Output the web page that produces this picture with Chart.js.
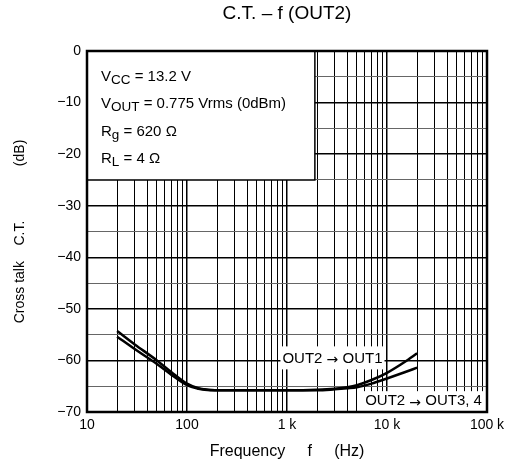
<!DOCTYPE html>
<html>
<head>
<meta charset="utf-8">
<script src="https://cdn.jsdelivr.net/npm/chart.js@4/dist/chart.umd.min.js"></script>
<style>
  html, body { margin: 0; padding: 0; background: #fff; }
  #wrap { width: 512px; height: 470px; }
</style>
</head>
<body>
<div id="wrap"><canvas id="ctChart" width="512" height="470"></canvas></div>
<script>
const FONT = "'Liberation Sans', Arial, sans-serif";
const ARROW_FONT = "'DejaVu Sans', sans-serif";

// frequency (Hz) and cross talk (dB)
const freq = [20, 30, 50, 70, 100, 130, 150, 200, 500, 1000, 2000, 3000, 4000, 5000, 7000, 10000, 15000, 20000];
const ctOut1 = [-54.3, -56.9, -60.0, -62.3, -64.5, -65.4, -65.6, -65.8, -65.8, -65.8, -65.7, -65.5, -65.2, -64.8, -63.8, -62.4, -60.3, -58.6];
const ctOut34 = [-55.4, -57.8, -60.7, -62.8, -64.8, -65.5, -65.7, -65.8, -65.8, -65.8, -65.8, -65.6, -65.4, -65.2, -64.5, -63.5, -62.3, -61.4];

const xTickValues = [10, 100, 1000, 10000, 100000];
const xTickLabels = ['10', '100', '1 k', '10 k', '100 k'];
const yTickLabels = ['0', '\u221210', '\u221220', '\u221230', '\u221240', '\u221250', '\u221260', '\u221270'];

const isDecade = v => xTickValues.includes(v);

// text in pieces: [text, font, vertical shift]
function partsWidth(ctx, parts) {
	let w = 0;
	parts.forEach(([t, f]) => { ctx.font = f; w += ctx.measureText(t).width; });
	return w;
}
function drawParts(ctx, parts, x, y) {
	parts.forEach(([t, f, dy]) => {
		ctx.font = f;
		ctx.fillText(t, x, y + (dy || 0));
		x += ctx.measureText(t).width;
	});
}

// title, condition box, curve labels, frame
const overlay = {
	id: 'overlay',
	beforeDatasetsDraw(chart) {
		const {ctx, chartArea: a, scales: {x, y}} = chart;
		ctx.save();
		// condition box
		const bx = x.getPixelForValue(1900), by = y.getPixelForValue(-25);
		ctx.fillStyle = '#fff';
		ctx.fillRect(a.left, a.top, bx - a.left, by - a.top);
		ctx.strokeStyle = '#000';
		ctx.lineWidth = 1.5;
		ctx.beginPath();
		ctx.moveTo(bx, a.top);
		ctx.lineTo(bx, by);
		ctx.lineTo(a.left, by);
		ctx.stroke();

		ctx.fillStyle = '#000';
		ctx.textAlign = 'left';
		ctx.textBaseline = 'alphabetic';
		const f15 = '15px ' + FONT, fsub = '13.5px ' + FONT;
		const rows = [
			[['V', f15], ['CC', fsub, 3], [' = 13.2 V', f15]],
			[['V', f15], ['OUT', fsub, 3], [' = 0.775 Vrms (0dBm)', f15]],
			[['R', f15], ['g', fsub, 3], [' = 620 \u03a9', f15]],
			[['R', f15], ['L', fsub, 3], [' = 4 \u03a9', f15]]
		];
		rows.forEach((parts, i) => {
			drawParts(ctx, parts, a.left + 14, a.top + 29.5 + i * 27.5);
		});

		// curve labels
		ctx.textBaseline = 'middle';
		const fa = '14px ' + ARROW_FONT;
		const l1 = [['OUT2 ', f15], ['\u2192', fa, 2], [' OUT1', f15]];
		const l1x = x.getPixelForValue(900), l1y = y.getPixelForValue(-59.6);
		const w1 = partsWidth(ctx, l1);
		ctx.fillStyle = '#fff';
		ctx.fillRect(l1x - 2, l1y - 12, w1 + 4, 23);
		ctx.fillStyle = '#000';
		drawParts(ctx, l1, l1x, l1y);

		const l2 = [['OUT2 ', f15], ['\u2192', fa, 2], [' OUT3, 4', f15]];
		const l2x = x.getPixelForValue(89000), l2y = y.getPixelForValue(-67.9);
		const w2 = partsWidth(ctx, l2);
		ctx.fillStyle = '#fff';
		ctx.fillRect(l2x - w2 - 4, l2y - 10, w2 + 7, 22);
		ctx.fillStyle = '#000';
		drawParts(ctx, l2, l2x - w2, l2y);
		ctx.restore();
	},
	afterDatasetsDraw(chart) {
		const {ctx, chartArea: a} = chart;
		ctx.save();
		ctx.strokeStyle = '#000';
		ctx.lineWidth = 2.5;
		ctx.strokeRect(a.left, a.top, a.right - a.left, a.bottom - a.top);

		ctx.fillStyle = '#000';
		ctx.font = '19px ' + FONT;
		ctx.textAlign = 'center';
		ctx.textBaseline = 'middle';
		ctx.fillText('C.T. \u2013 f (OUT2)', (a.left + a.right) / 2, 14);
		ctx.restore();
	}
};

const ctx = document.getElementById('ctChart').getContext('2d');
const ctChart = new Chart(ctx, {
	type: 'line',
	data: {
		datasets: [{
			label: 'OUT2 \u2192 OUT1',
			data: freq.map((f, i) => ({x: f, y: ctOut1[i]})),
			borderColor: '#000',
			borderWidth: 2.5,
			pointRadius: 0,
			cubicInterpolationMode: 'monotone'
		}, {
			label: 'OUT2 \u2192 OUT3, 4',
			data: freq.map((f, i) => ({x: f, y: ctOut34[i]})),
			borderColor: '#000',
			borderWidth: 2.5,
			pointRadius: 0,
			cubicInterpolationMode: 'monotone'
		}]
	},
	options: {
		responsive: false,
		animation: false,
		layout: { padding: { left: 0, right: 25, top: 51, bottom: 0 } },
		plugins: {
			legend: { display: false },
			tooltip: { enabled: false },
			title: { display: false }
		},
		scales: {
			x: {
				type: 'logarithmic',
				min: 10,
				max: 100000,
				afterBuildTicks(scale) {
					const t = [];
					for (let d = 10; d < 100000; d *= 10) {
						for (let m = 1; m < 10; m++) t.push({value: m * d});
					}
					t.push({value: 100000});
					scale.ticks = t;
				},
				afterFit(scale) { scale.height = 58; },
				ticks: {
					autoSkip: false,
					maxRotation: 0,
					padding: 5,
					color: '#000',
					font: { family: FONT, size: 14 },
					callback: v => {
						const i = xTickValues.indexOf(v);
						return i >= 0 ? xTickLabels[i] : '';
					}
				},
				grid: {
					drawTicks: false,
					color: '#000',
					lineWidth: c => (c.tick && isDecade(c.tick.value)) ? 1.5 : 1
				},
				border: { display: false },
				title: {
					display: true,
					text: 'Frequency     f     (Hz)',
					color: '#000',
					font: { family: FONT, size: 16 },
					padding: { top: 4, bottom: 9 }
				}
			},
			y: {
				min: -70,
				max: 0,
				afterFit(scale) { scale.width = 87; },
				ticks: {
					stepSize: 5,
					autoSkip: false,
					padding: 6,
					color: '#000',
					font: { family: FONT, size: 14 },
					callback: v => (v % 10 === 0) ? yTickLabels[-v / 10] : ''
				},
				grid: {
					drawTicks: false,
					color: c => (c.tick && c.tick.value % 10 === 0) ? '#000' : '#666',
					lineWidth: c => (c.tick && c.tick.value % 10 === 0) ? 1.5 : 1
				},
				border: { display: false },
				title: {
					display: true,
					text: 'Cross talk    C.T.              (dB)',
					color: '#000',
					font: { family: FONT, size: 14 },
					padding: { top: 12, bottom: 0 }
				}
			}
		}
	},
	plugins: [overlay]
});
</script>
</body>
</html>
